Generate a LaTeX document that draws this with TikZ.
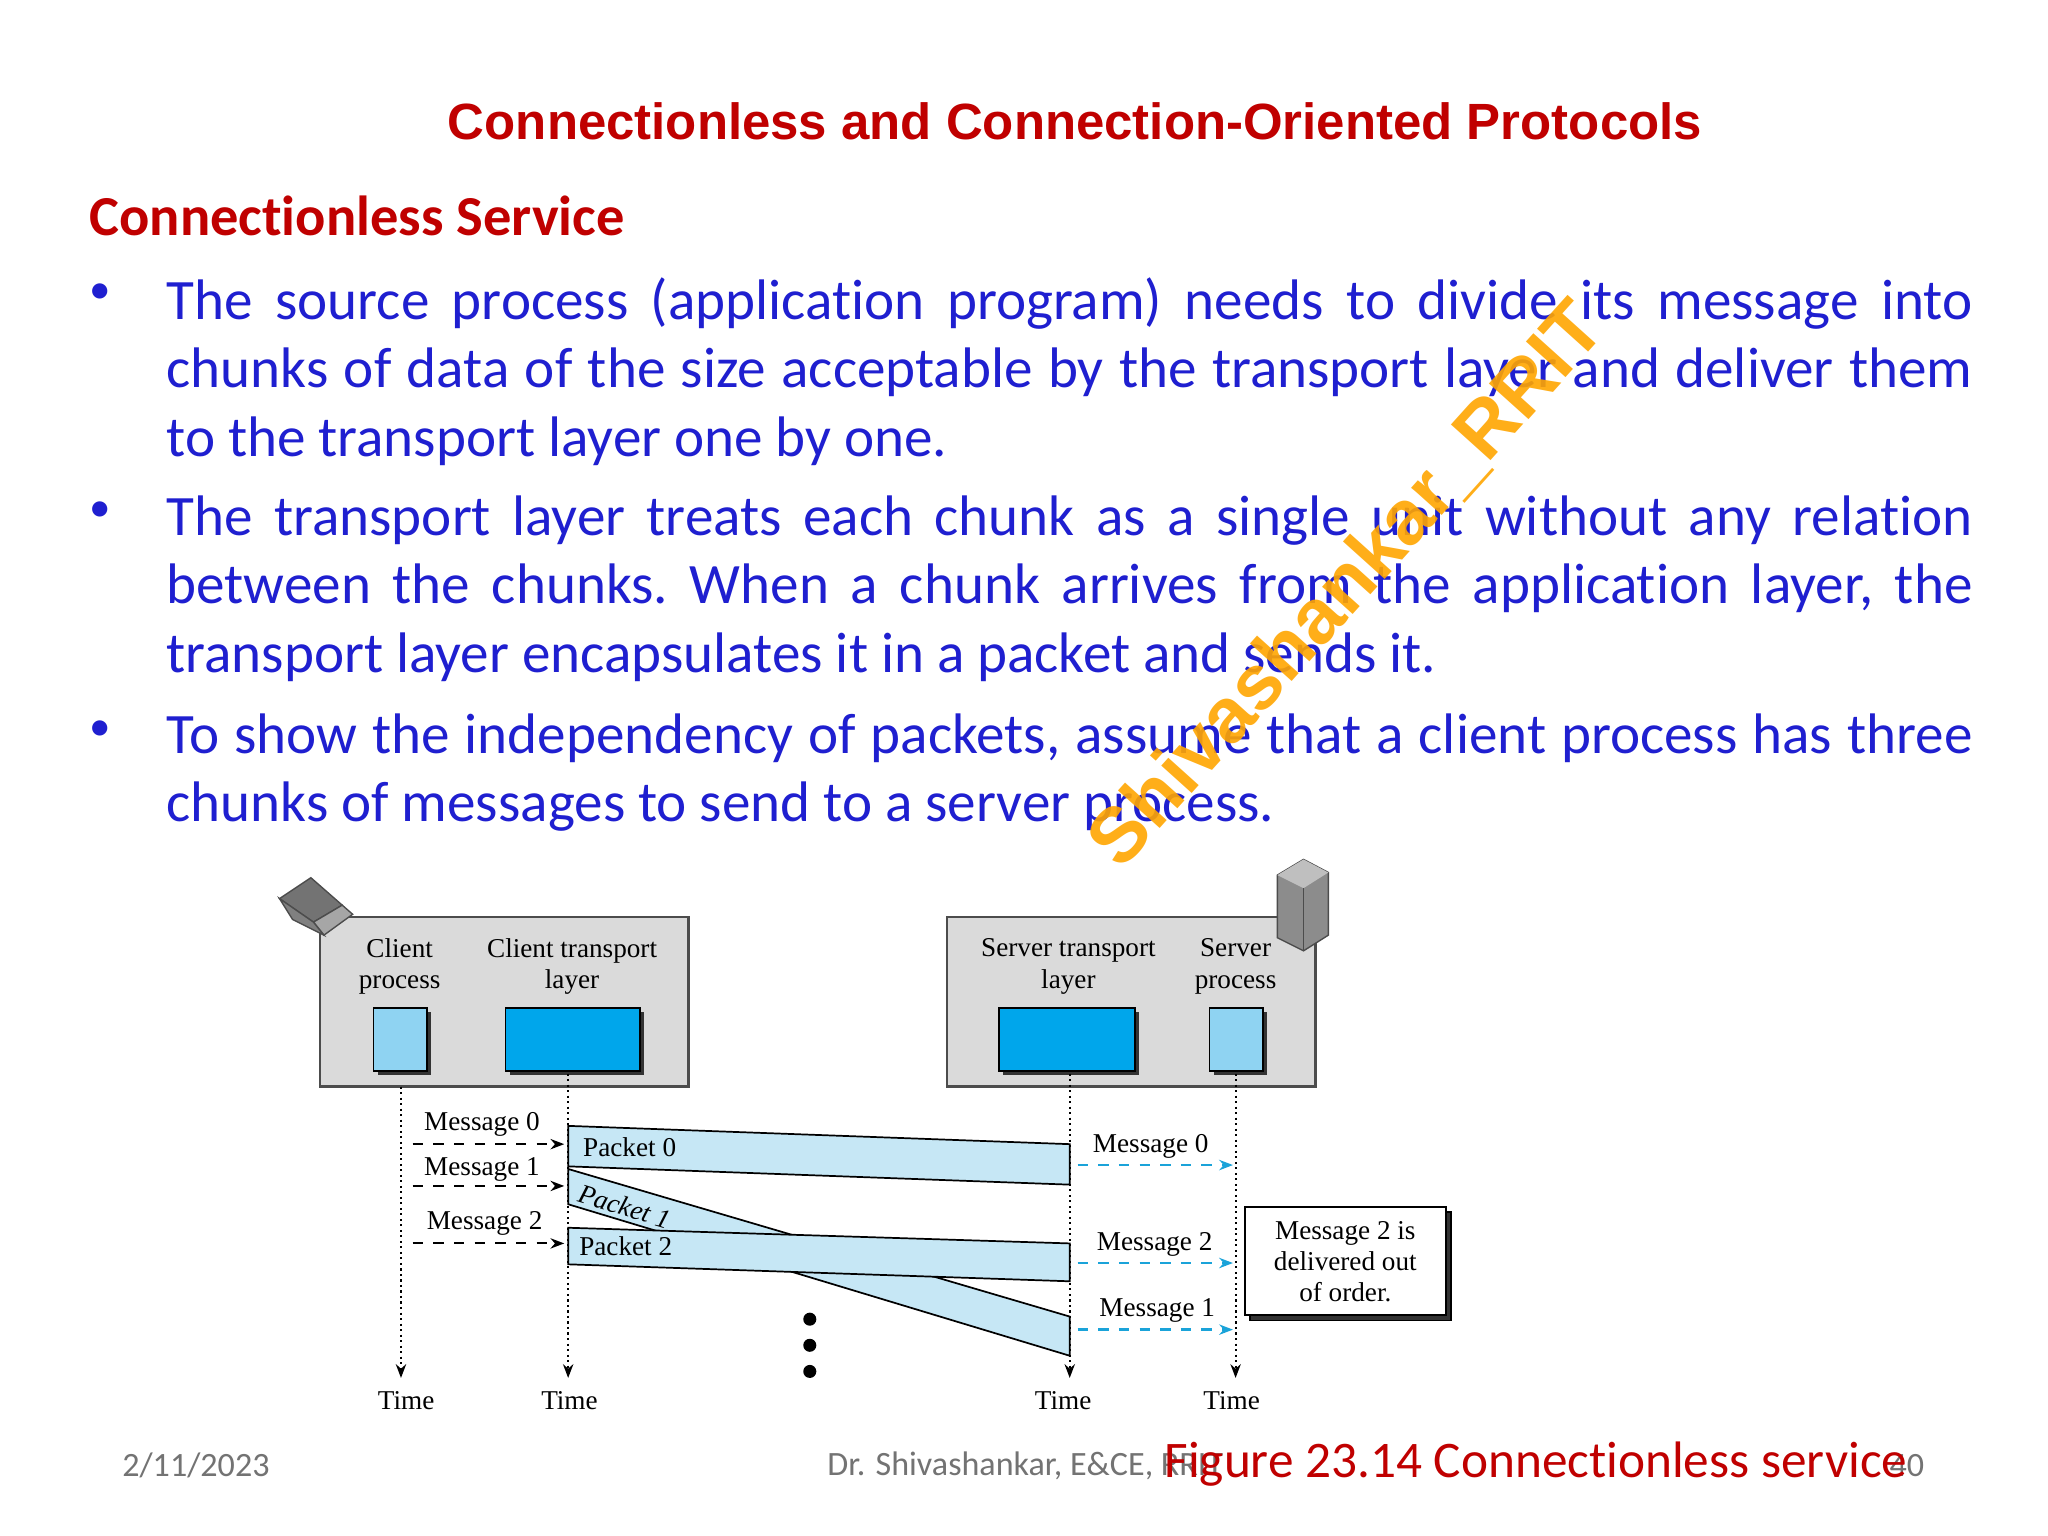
\documentclass[tikz,border=0pt]{standalone}
\usepackage{fontspec}
\setmainfont{Carlito}[Ligatures=NoCommon]
\newfontfamily\arialf{Liberation Sans}
\newfontfamily\timesf{Liberation Serif}
\usetikzlibrary{arrows.meta,shadows}
\newcommand\nohyph{\frenchspacing\hyphenpenalty=10000 \exhyphenpenalty=10000 \relax}
\definecolor{tred}{HTML}{C00000}
\definecolor{tblue}{HTML}{1F1FD0}
\definecolor{pkt}{HTML}{C6E7F5}
\definecolor{lb}{HTML}{8FD3F2}
\definecolor{bb}{HTML}{00A6EB}
\definecolor{gbox}{HTML}{DADADA}
\definecolor{cy}{HTML}{1AA3D9}
\tikzset{
 lab/.style={font=\timesf\fontsize{7.9}{9.1}\selectfont,align=center,inner sep=0},
 layerbox/.style={draw=black!70,fill=gbox,line width=0.8pt},
 sq/.style={draw=black,line width=0.5pt,drop shadow={shadow xshift=1.2pt,shadow yshift=-1.2pt,fill=black!80,opacity=1}},
 tline/.style={densely dotted,line width=0.6pt,-{Stealth[length=4pt]}},
 msg/.style={dashed,line width=0.6pt,-{Stealth[length=4pt]}},
 smsg/.style={dashed,cy,line width=0.7pt,-{Stealth[length=4pt]}},
 pk/.style={draw=black,fill=pkt,line width=0.5pt},
 body/.style={font=\fontsize{16.6}{19.9}\selectfont,text=tblue,text width=18.44cm,align=justify,inner sep=0,anchor=north west},
 bul/.style={font=\fontsize{12.5}{20}\selectfont,text=tblue,inner sep=0,anchor=north west}
}
\begin{document}
\begin{tikzpicture}[x=0.013333cm,y=-0.013333cm]
\useasboundingbox[fill=white] (0,0) rectangle (1568,1176);
\node[font=\arialf\bfseries\fontsize{14.8}{16}\selectfont,text=tred] (title) at (823,93) {Connectionless and Connection-Oriented Protocols};
\node[font=\bfseries\fontsize{16.4}{17}\selectfont,text=tred,anchor=west,inner sep=0] (sub) at (68,165) {Connectionless Service};
\node[bul] (b1) at (68,217) {\textbullet};
\node[body] (t1) at (127,212) {\nohyph The source process (application program) needs to divide its message into chunks of data of the size acceptable by the transport layer and deliver them to the transport layer one by one.\par};
\node[bul] (b2) at (68,384) {\textbullet};
\node[body] (t2) at (127,379) {\nohyph The transport layer treats each chunk as a single unit without any relation between the chunks. When a chunk arrives from the application layer, the transport layer encapsulates it in a packet and sends it.\par};
\node[bul] (b3) at (68,551) {\textbullet};
\node[body] (t3) at (127,546) {\nohyph To show the independency of packets, assume that a client process has three chunks of messages to send to a server process.\par};
% boxes
\draw[layerbox] (245,702) rectangle (527,832);
\draw[layerbox] (725,702) rectangle (1007,832);
\node[lab] (cp) at (306,740) {Client\\process};
\node[lab] (ct) at (438,740) {Client transport\\layer};
\node[lab] (st) at (818,740) {Server transport\\layer};
\node[lab] (sp) at (946,740) {Server\\process};
\draw[sq,fill=lb] (286,772) rectangle (327,820);
\draw[sq,fill=bb] (387,772) rectangle (490,820);
\draw[sq,fill=bb] (765,772) rectangle (869,820);
\draw[sq,fill=lb] (926,772) rectangle (967,820);
% laptop
\draw[fill=black!55,draw=black!70] (214,688) -- (238,672) -- (262,693) -- (240,706) -- cycle;
\draw[fill=black!35,draw=black!70] (240,706) -- (262,693) -- (270,700) -- (248,716) -- cycle;
\draw[fill=black!50,draw=black!70] (214,688) -- (240,706) -- (248,716) -- (224,704) -- cycle;
% server tower
\draw[fill=black!45,draw=black!70] (978,670) -- (998,658) -- (1017,668) -- (1017,716) -- (998,728) -- (978,718) -- cycle;
\draw[fill=black!25,draw=none] (978,670) -- (998,658) -- (1017,668) -- (998,680) -- cycle;
\draw[black!70] (998,680) -- (998,728);
% timelines
\coordinate (c1) at (307,832); \coordinate (c1e) at (307,1055);
\coordinate (c2) at (435,822); \coordinate (c2e) at (435,1055);
\coordinate (c3) at (819,822); \coordinate (c3e) at (819,1055);
\coordinate (c4) at (946,822); \coordinate (c4e) at (946,1055);
\draw[tline] (c1) -- (c1e); \draw[tline] (c2) -- (c2e);
\draw[tline] (c3) -- (c3e); \draw[tline] (c4) -- (c4e);
\node[lab] (tm1) at (311,1072) {Time};
\node[lab] (tm2) at (436,1072) {Time};
\node[lab] (tm3) at (814,1072) {Time};
\node[lab] (tm4) at (943,1072) {Time};
% packets
\draw[pk] (435,895) -- (435,922) -- (819,1038) -- (819,1008) -- cycle;
\draw[pk] (435,862) -- (435,893) -- (819,907) -- (819,876) -- cycle;
\draw[pk] (435,940) -- (435,968) -- (819,981) -- (819,952) -- cycle;
\node[lab,anchor=west] (p0) at (446,878) {Packet 0};
\node[lab,anchor=west,rotate=-17,font=\timesf\itshape\fontsize{7.9}{9}\selectfont] (p1) at (443,913) {Packet 1};
\node[lab,anchor=west] (p2) at (443,954) {Packet 2};
% client messages
\coordinate (m0a) at (316,876); \coordinate (m0b) at (432,876);
\coordinate (m1a) at (316,908); \coordinate (m1b) at (432,908);
\coordinate (m2a) at (316,952); \coordinate (m2b) at (432,952);
\draw[msg] (m0a) -- (m0b); \draw[msg] (m1a) -- (m1b); \draw[msg] (m2a) -- (m2b);
\node[lab] (l0) at (369,861) {Message 0};
\node[lab] (l1) at (369,895) {Message 1};
\node[lab] (l2) at (371,937) {Message 2};
% server messages
\coordinate (s0a) at (825,892); \coordinate (s0b) at (944,892);
\coordinate (s2a) at (825,967); \coordinate (s2b) at (944,967);
\coordinate (s1a) at (825,1018); \coordinate (s1b) at (944,1018);
\draw[smsg] (s0a) -- (s0b); \draw[smsg] (s2a) -- (s2b); \draw[smsg] (s1a) -- (s1b);
\node[lab] (r0) at (881,878) {Message 0};
\node[lab] (r2) at (884,953) {Message 2};
\node[lab] (r1) at (886,1003) {Message 1};
% note
\draw[fill=black!80] (957,928) rectangle (1111,1011);
\draw[fill=white,line width=0.6pt] (953,924) rectangle (1107,1007);
\node[lab] (note) at (1030,966) {Message 2 is\\delivered out\\of order.};
% dots
\fill (620,1010) circle (5); \fill (620,1030) circle (5); \fill (620,1050) circle (5);
% watermark
\node[rotate=48,font=\arialf\bfseries\fontsize{22.5}{23}\selectfont,text=orange!70!yellow,opacity=0.9] (wm) at (1032,448) {Shivashankar\_RRIT};
% footer
\node[font=\fontsize{9.9}{10}\selectfont,text=black!55] (date) at (150,1122) {2/11/2023};
\node[font=\fontsize{9.9}{10}\selectfont,text=black!55] (auth) at (785,1122) {Dr. Shivashankar, E\&CE, RRIT};
\node[font=\fontsize{9.9}{10}\selectfont,text=black!55] (pg) at (1460,1122) {40};
\node[font=\fontsize{14.9}{15}\selectfont,text=tred] (fig) at (1176,1121) {Figure 23.14 Connectionless service};
\end{tikzpicture}
\end{document}
